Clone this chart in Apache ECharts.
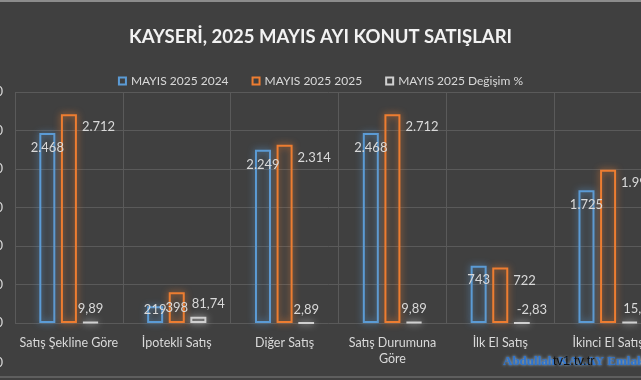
<!DOCTYPE html>
<html><head><meta charset="utf-8">
<script src="https://cdn.jsdelivr.net/npm/echarts@6/dist/echarts.min.js"></script>
<style>html,body{margin:0;padding:0;background:#404040}#c{width:641px;height:380px}</style>
</head><body><div id="c"></div>
<script>
const title = 'KAYSERİ, 2025 MAYIS AYI KONUT SATIŞLARI';
const categories = ['Satış Şekline Göre','İpotekli Satış','Diğer Satış','Satış Durumuna Göre','İlk El Satış','İkinci El Satış'];
const seriesNames = ['MAYIS 2025 2024','MAYIS 2025 2025','MAYIS 2025 Değişim %'];
const sales2024 = [2468,219,2249,2468,743,1725];
const sales2025 = [2712,398,2314,2712,722,1990];
const changePct = [9.89,81.74,2.89,9.89,-2.83,15.36];
const watermark = 'Abdullah KALAY Emlak Turizm';
const watermark2 = 'tv1.tv.tr';

const FONT = 'Lato';
const TXT = '#D9D9D9';
const fmtInt = v => String(Math.round(v)).replace(/\B(?=(\d{3})+(?!\d))/g, '.');
const fmtPct = v => v.toFixed(2).replace('.', ',');
const wrapCat = v => v.length > 18 ? v.replace(/ (\S+)$/, '\n$1') : v;

const blueData = sales2024.map((v, i) => i === 1
  ? {value: v, label: {position: 'inside', offset: [0, -5]}}
  : v);
const orangeData = sales2025.map((v, i) => i === 1
  ? {value: v, label: {position: 'inside', align: 'center', verticalAlign: 'middle', offset: [0, 0]}}
  : v);
const grayData = changePct.map((v, i) => (i === 1 || i === 4 || i === 5)
  ? {value: v, label: {offset: [10, 0]}}
  : v);

const labelBase = {show: true, color: TXT, fontFamily: FONT, fontSize: 13};
function barStyle(c, glow) {
  return {color: 'transparent', borderColor: c, borderWidth: 2, shadowBlur: 7, shadowColor: glow};
}

const chart = echarts.init(document.getElementById('c'), null, {renderer: 'canvas'});
chart.setOption({
  backgroundColor: '#404040',
  animation: false,
  title: {text: title, left: 'center', top: 23,
    textStyle: {color: '#F2F2F2', fontFamily: FONT, fontWeight: 'bold', fontSize: 18.5}},
  legend: {top: 70, left: 'center', itemWidth: 7, itemHeight: 7, itemGap: 23,
    icon: 'rect',
    textStyle: {color: TXT, fontFamily: FONT, fontSize: 12},
    data: seriesNames},
  grid: [
    {left: 15, right: -21, top: 92, bottom: 57, containLabel: false, outerBoundsMode: 'none'},
    {left: 15, right: -21, top: 323, bottom: 17, containLabel: false, outerBoundsMode: 'none'}
  ],
  xAxis: [
    {type: 'category', data: categories, gridIndex: 0,
      axisLine: {show: false}, axisTick: {show: false},
      splitLine: {show: true, lineStyle: {color: '#5A5A5A', width: 1}},
      axisLabel: {color: TXT, fontFamily: FONT, fontSize: 12.5, margin: 12, interval: 0,
        lineHeight: 16, formatter: wrapCat}},
    {type: 'category', data: categories, gridIndex: 1, show: false}
  ],
  yAxis: [
    {type: 'value', min: 0, max: 3000, interval: 500, gridIndex: 0,
      axisLine: {show: false}, axisTick: {show: false},
      splitLine: {lineStyle: {color: '#5A5A5A', width: 1}},
      axisLabel: {color: TXT, fontFamily: FONT, fontSize: 13, margin: 12, formatter: v => fmtInt(v)}},
    {type: 'value', min: -500, max: 0, interval: 500, gridIndex: 1,
      axisLine: {show: false}, axisTick: {show: false}, splitLine: {show: false},
      axisLabel: {color: TXT, fontFamily: FONT, fontSize: 13, margin: 12,
        formatter: v => v < 0 ? '-' + fmtInt(-v) : ''}}
  ],
  series: [
    {name: seriesNames[0], type: 'bar', data: blueData, barWidth: 16, barGap: '35%', clip: false,
      itemStyle: barStyle('#5B9BD5', 'rgba(91,155,213,0.9)'),
      label: Object.assign({}, labelBase, {position: 'insideTop', distance: 8,
        formatter: p => fmtInt(p.value)})},
    {name: seriesNames[1], type: 'bar', data: orangeData, barWidth: 16, barGap: '35%', clip: false,
      itemStyle: barStyle('#ED7D31', 'rgba(237,125,49,0.9)'),
      label: Object.assign({}, labelBase, {position: ['100%', 13], align: 'left', verticalAlign: 'middle',
        offset: [5, 0], formatter: p => fmtInt(p.value)})},
    {name: seriesNames[2], type: 'bar', data: grayData, barWidth: 16, barGap: '35%', clip: false,
      itemStyle: barStyle('#D0D0D0', 'rgba(230,230,230,0.8)'),
      label: Object.assign({}, labelBase, {position: 'top', distance: 6,
        formatter: p => fmtPct(p.value)})},
    {type: 'bar', xAxisIndex: 1, yAxisIndex: 1, data: [], silent: true}
  ],
  graphic: [
    {type: 'line', shape: {x1: 0, y1: 1, x2: 641, y2: 1}, style: {stroke: '#8C8C8C', lineWidth: 2}},
    {type: 'line', shape: {x1: 0, y1: 377, x2: 641, y2: 377}, style: {stroke: '#5E5E5E', lineWidth: 2}},
    {type: 'text', left: 503, top: 355, style: {text: watermark, fill: '#2E74CF',
      font: 'bold 13px "Liberation Serif"', textShadowColor: 'rgba(170,215,255,1)', textShadowBlur: 3}},
    {type: 'text', left: 553, top: 355, style: {text: watermark2, fill: '#111111',
      font: '13px "Liberation Sans"'}}
  ]
});
</script></body></html>
